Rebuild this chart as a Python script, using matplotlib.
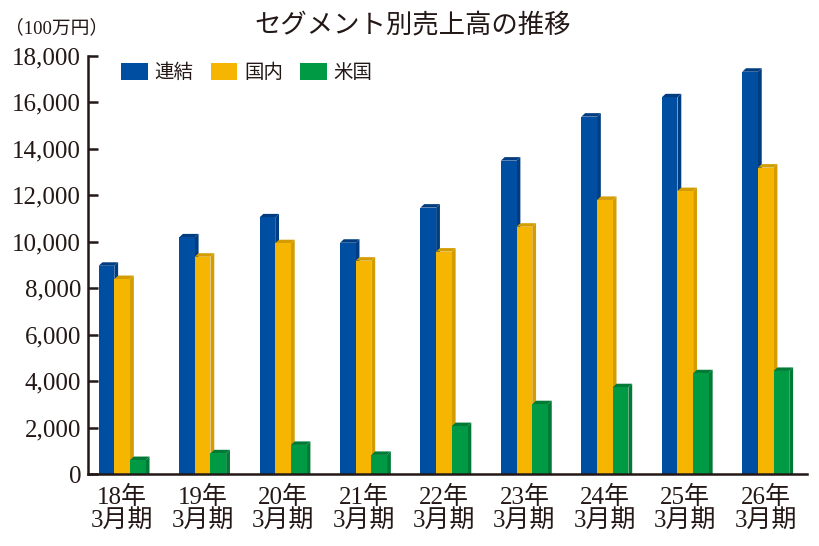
import numpy as np
import matplotlib.pyplot as plt
from matplotlib.patches import Polygon, Patch

plt.rcParams['font.family'] = ['Liberation Serif', 'Noto Sans CJK JP']

years = ['18年', '19年', '20年', '21年', '22年', '23年', '24年', '25年', '26年']
cat_labels = [y + '\n3月期' for y in years]

# 単位: 100万円
renketsu = [8970, 10190, 11050, 9960, 11470, 13490, 15380, 16210, 17310]
kokunai = [8400, 9360, 9940, 9190, 9580, 10650, 11800, 12180, 13190]
beikoku = [620, 910, 1270, 840, 2080, 3020, 3750, 4350, 4450]

series = [
    ('連結', renketsu, '#004ea2', '#003c80'),
    ('国内', kokunai, '#f6b500', '#d39c00'),
    ('米国', beikoku, '#009944', '#007a35'),
]

fig = plt.figure(figsize=(8.2, 5.46), dpi=100)
ax = fig.add_axes([0.1073, 0.131, 0.8768, 0.767])

x = np.arange(len(years))
w = 0.195
xmin, xmax = -0.425, 8.512
ymax = 18000
ax.set_xlim(xmin, xmax)
ax.set_ylim(0, ymax)

# depth of the fake 3d faces, in data units (~3.5 px)
ax_w_px = 0.8768 * 820
ax_h_px = 0.767 * 546
dx = 3.8 * (xmax - xmin) / ax_w_px
dy = 3.5 * ymax / ax_h_px

for i, (name, vals, front, dark) in enumerate(series):
    xs = x + (i - 1) * w
    ax.bar(xs, vals, width=w, color=front, zorder=3 + i * 3)
    for xc, v in zip(xs, vals):
        r = xc + w / 2
        l = xc - w / 2
        side = Polygon([(r, 0), (r, v), (r + dx, v + dy), (r + dx, 0)],
                       closed=True, facecolor=dark, edgecolor='none',
                       zorder=2 + i * 3)
        top = Polygon([(l, v), (r, v), (r + dx, v + dy), (l + dx, v + dy)],
                      closed=True, facecolor=dark, edgecolor='none',
                      zorder=2 + i * 3)
        ax.add_patch(side)
        ax.add_patch(top)

ink = '#231815'
for s in ['top', 'right']:
    ax.spines[s].set_visible(False)
for s in ['left', 'bottom']:
    ax.spines[s].set_color(ink)
    ax.spines[s].set_linewidth(1.8)
    ax.spines[s].set_zorder(20)

ax.set_yticks(np.arange(0, 18001, 2000))
ax.set_yticklabels([f'{v:,}' for v in range(0, 18001, 2000)])
ax.tick_params(axis='y', direction='in', length=7, width=1.8, color=ink,
               labelsize=18, labelcolor=ink, pad=5)
ax.set_xticks(x)
ax.set_xticklabels(cat_labels, linespacing=1.0)
ax.tick_params(axis='x', length=0, labelsize=18, labelcolor=ink, pad=8)

fig.text(0.503, 0.955, 'セグメント別売上高の推移', ha='center', va='center',
         fontsize=19, color=ink, family=['Noto Sans CJK JP'])
fig.text(0.006, 0.948, '（100万円）', ha='left', va='center', fontsize=13.5,
         color=ink)

handles = [Patch(facecolor=c, label=n) for n, v, c, d in series]
leg = ax.legend(handles=handles, loc='upper left', bbox_to_anchor=(0.022, 1.027),
                ncol=3, frameon=False, handlelength=1.35, handleheight=0.95,
                handletextpad=0.35, columnspacing=0.9,
                prop={'family': ['Noto Sans CJK JP'], 'size': 14})
for t in leg.get_texts():
    t.set_color(ink)

fig.savefig('out.png', dpi=100)
